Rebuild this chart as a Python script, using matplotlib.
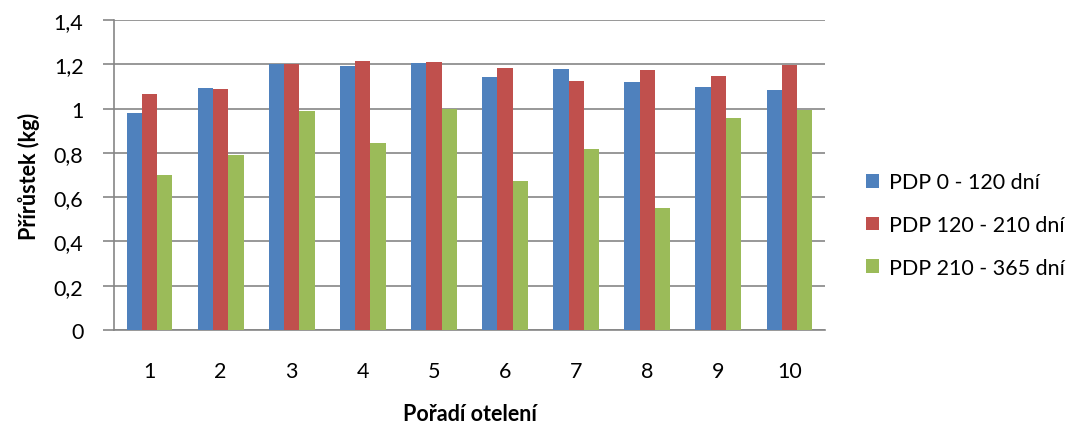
import matplotlib
matplotlib.use("Agg")
import matplotlib.pyplot as plt
import numpy as np
from matplotlib.patches import Patch

plt.rcParams['font.family'] = ['Lato', 'DejaVu Sans']

categories = ['1', '2', '3', '4', '5', '6', '7', '8', '9', '10']
series_names = ['PDP 0 - 120 dní', 'PDP 120 - 210 dní', 'PDP 210 - 365 dní']
pdp_0_120 = [0.98, 1.094, 1.200, 1.193, 1.207, 1.144, 1.180, 1.121, 1.099, 1.085]
pdp_120_210 = [1.067, 1.090, 1.203, 1.216, 1.212, 1.184, 1.126, 1.175, 1.148, 1.198]
pdp_210_365 = [0.701, 0.791, 0.990, 0.845, 0.996, 0.674, 0.818, 0.552, 0.958, 0.995]
y_ticks = [0, 0.2, 0.4, 0.6, 0.8, 1.0, 1.2, 1.4]
y_tick_labels = ['0', '0,2', '0,4', '0,6', '0,8', '1', '1,2', '1,4']

colors = ['#4F81BD', '#C0504D', '#9BBB59']
grid_color = '#868686'
fs = 15.5

W, H = 1082, 427
fig = plt.figure(figsize=(W / 100, H / 100), dpi=100)
ax = fig.add_axes([114 / W, 1 - 331 / H, (825 - 114) / W, (331 - 21) / H])

x = np.arange(len(categories))
bw = 0.215
for i, (vals, c) in enumerate(zip([pdp_0_120, pdp_120_210, pdp_210_365], colors)):
    ax.bar(x + (i - 1) * bw, vals, width=bw, color=c, zorder=3, linewidth=0)

ax.set_xlim(-0.5, len(categories) - 0.5)
ax.set_ylim(0, 1.4)
ax.set_yticks(y_ticks)
ax.set_yticklabels(y_tick_labels)
ax.set_xticks(x)
ax.set_xticklabels(categories)

ax.yaxis.grid(True, color=grid_color, linewidth=1.2, zorder=0)
for s in ['top', 'right']:
    ax.spines[s].set_visible(False)
for s in ['left', 'bottom']:
    ax.spines[s].set_color(grid_color)
    ax.spines[s].set_linewidth(1.2)
ax.tick_params(axis='y', length=8, width=1.2, color=grid_color, labelsize=fs, pad=14)
ax.tick_params(axis='x', length=0, labelsize=fs, pad=22)

ax.set_ylabel('Přírůstek (kg)', fontsize=fs, fontweight='bold', labelpad=10)
ax.set_xlabel('Pořadí otelení', fontsize=fs, fontweight='bold', labelpad=16)

handles = [Patch(facecolor=c, edgecolor='none') for c in colors]
fig.legend(handles, series_names, loc='center left', bbox_to_anchor=(847 / W, 1 - 226 / H),
           frameon=False, fontsize=fs, handlelength=0.6, handleheight=0.6,
           labelspacing=1.05, handletextpad=0.45)

fig.savefig('out.png', dpi=100)
